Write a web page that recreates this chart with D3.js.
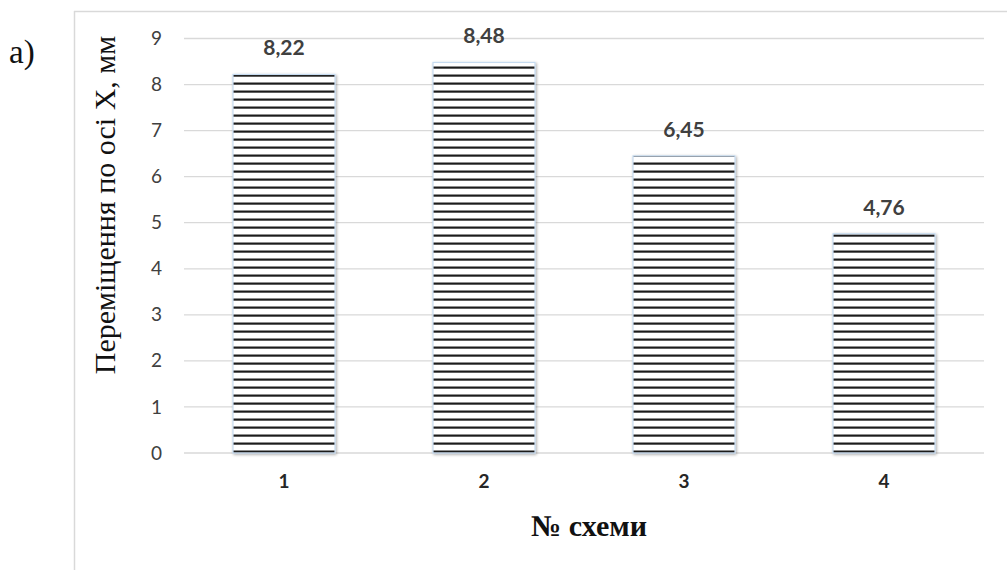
<!DOCTYPE html>
<html><head><meta charset="utf-8">
<script src="https://cdn.jsdelivr.net/npm/d3@7"></script>
<style>body{margin:0;background:#fff}svg{display:block}</style>
</head><body>
<svg id="c" width="1007" height="570"></svg>
<script>
const categories = ["1", "2", "3", "4"];
const values = [8.22, 8.48, 6.45, 4.76];
const labels = ["8,22", "8,48", "6,45", "4,76"];
const yTicks = [0, 1, 2, 3, 4, 5, 6, 7, 8, 9];
const yTitle = "Переміщення по осі Х, мм";
const xTitle = "№ схеми";
const panelLabel = "а)";

const svg = d3.select("#c");
const x = d3.scaleBand().domain(categories).range([184, 984]).paddingInner(0.49).paddingOuter(0.245);
const y = d3.scaleLinear().domain([0, 9]).range([453, 38.5]);

// chart frame
svg.append("line").attr("x1", 74.5).attr("x2", 74.5).attr("y1", 11).attr("y2", 570).attr("stroke", "#d9d9d9").attr("stroke-width", 1.5);
svg.append("line").attr("x1", 74).attr("x2", 1007).attr("y1", 11.5).attr("y2", 11.5).attr("stroke", "#d9d9d9").attr("stroke-width", 1.5);

// pattern
const defs = svg.append("defs");
const pat = defs.append("pattern").attr("id", "hstripe").attr("patternUnits", "userSpaceOnUse")
  .attr("width", 8).attr("height", 8).attr("y", y(0) % 8);
pat.append("rect").attr("width", 8).attr("height", 8).attr("fill", "#fff");
pat.append("rect").attr("y", 5.5).attr("width", 8).attr("height", 2.2).attr("fill", "#1e1e1e");
const flt = defs.append("filter").attr("id", "sh").attr("x", "-10%").attr("y", "-10%").attr("width", "130%").attr("height", "130%");
flt.append("feGaussianBlur").attr("in", "SourceAlpha").attr("stdDeviation", 1.6);
flt.append("feOffset").attr("dx", 1.2).attr("dy", 1.2).attr("result", "b");
flt.append("feComponentTransfer").append("feFuncA").attr("type", "linear").attr("slope", 0.35);
const mg = flt.append("feMerge"); mg.append("feMergeNode"); mg.append("feMergeNode").attr("in", "SourceGraphic");

// gridlines
svg.append("g").selectAll("line").data(yTicks).join("line")
  .attr("x1", 184).attr("x2", 984).attr("y1", d => y(d)).attr("y2", d => y(d))
  .attr("stroke", "#d9d9d9").attr("stroke-width", 1.3);

// y axis labels
const yAxis = d3.axisLeft(y).tickValues(yTicks).tickSize(0).tickPadding(0).tickFormat(d3.format("d"));
svg.append("g").attr("transform", "translate(162,0)").call(yAxis)
  .call(g => g.select(".domain").remove())
  .selectAll("text").attr("font-family", "Lato, 'Open Sans', sans-serif").attr("font-size", 19).attr("fill", "#404040");

// bars
svg.append("g").selectAll("rect").data(values).join("rect")
  .attr("x", (d, i) => x(categories[i])).attr("width", x.bandwidth())
  .attr("y", d => y(d)).attr("height", d => y(0) - y(d))
  .attr("fill", "url(#hstripe)").attr("stroke", "#c6dbf0").attr("stroke-width", 1.2)
  .attr("filter", "url(#sh)");

// data labels
svg.append("g").selectAll("text").data(values).join("text")
  .attr("x", (d, i) => x(categories[i]) + x.bandwidth() / 2).attr("y", d => y(d) - 19)
  .attr("text-anchor", "middle").attr("font-family", "Lato, 'Open Sans', sans-serif").attr("font-weight", "bold")
  .attr("font-size", 21).attr("fill", "#404040").text((d, i) => labels[i]);

// x axis labels
const xAxis = d3.axisBottom(x).tickSize(0).tickPadding(0);
svg.append("g").attr("transform", "translate(0,473)").call(xAxis)
  .call(g => g.select(".domain").remove())
  .selectAll("text").attr("dy", "0.8em").attr("font-family", "Lato, 'Open Sans', sans-serif").attr("font-weight", "bold")
  .attr("font-size", 19).attr("fill", "#262626");

// titles
svg.append("text").attr("x", 589).attr("y", 536).attr("text-anchor", "middle")
  .attr("font-family", "'Liberation Serif', 'DejaVu Serif', serif").attr("font-weight", "bold").attr("font-size", 30)
  .attr("fill", "#111").text(xTitle);
svg.append("text").attr("transform", "translate(115,205) rotate(-90)").attr("text-anchor", "middle")
  .attr("font-family", "'Liberation Serif', 'DejaVu Serif', serif").attr("font-size", 30)
  .attr("fill", "#111").text(yTitle);
svg.append("text").attr("x", 9).attr("y", 63)
  .attr("font-family", "'Liberation Serif', 'DejaVu Serif', serif").attr("font-size", 33)
  .attr("fill", "#111").text(panelLabel);
</script>
</body></html>
